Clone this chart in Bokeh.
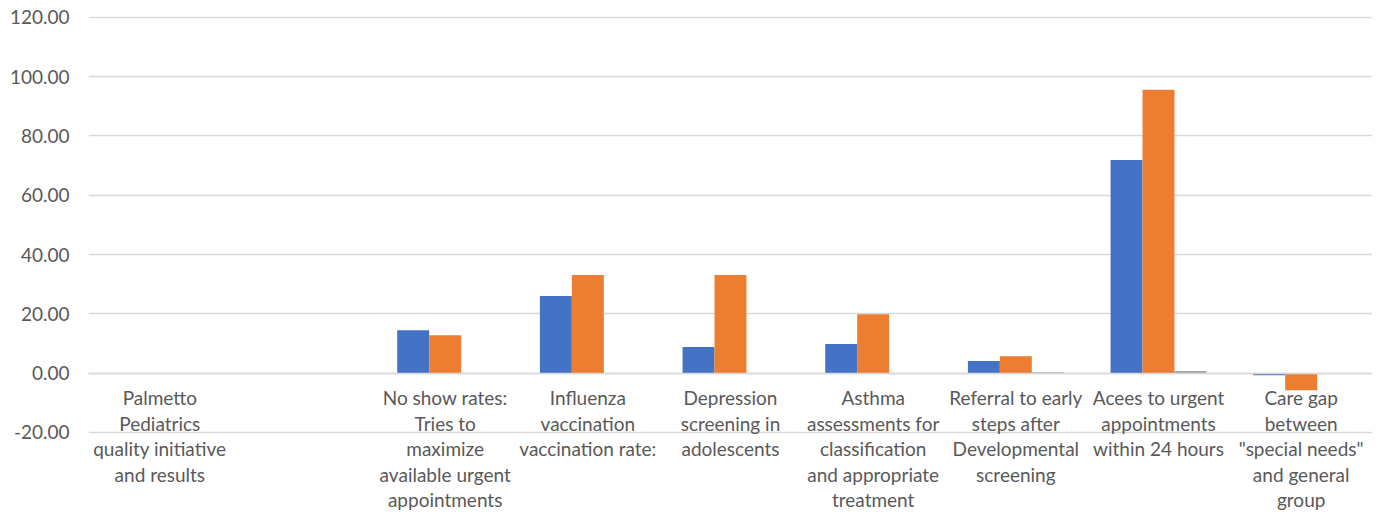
from bokeh.plotting import figure
from bokeh.models import ColumnDataSource, FactorRange, CategoricalAxis, NumeralTickFormatter, Range1d, FixedTicker
from bokeh.transform import dodge
from bokeh.embed import file_html
from bokeh.resources import INLINE

categories = [
    "Palmetto\nPediatrics\nquality initiative\nand results",
    " ",
    "No show rates:\nTries to\nmaximize\navailable urgent\nappointments",
    "Influenza\nvaccination\nvaccination rate:",
    "Depression\nscreening in\nadolescents",
    "Asthma\nassessments for\nclassification\nand appropriate\ntreatment",
    "Referral to early\nsteps after\nDevelopmental\nscreening",
    "Acees to urgent\nappointments\nwithin 24 hours",
    "Care gap\nbetween\n\"special needs\"\nand general\ngroup",
]
series_blue = [0, 0, 14.5, 26.0, 8.8, 9.8, 4.1, 71.9, -0.7]
series_orange = [0, 0, 12.8, 33.1, 33.1, 19.9, 5.7, 95.6, -5.8]
series_gray = [0, 0, 0, 0, 0, 0, 0.3, 0.7, 0]
y_ticks = [-20, 0, 20, 40, 60, 80, 100, 120]

source = ColumnDataSource(dict(cat=categories, blue=series_blue, orange=series_orange, gray=series_gray))

p = figure(
    x_range=FactorRange(factors=categories),
    y_range=Range1d(-47, 120.3),
    width=1380, height=512,
    output_backend="svg", toolbar_location=None,
    x_axis_location=None,
    min_border_left=88, min_border_right=8, min_border_top=16, min_border_bottom=0,
)
p.outline_line_color = None
p.background_fill_color = "white"
p.border_fill_color = "white"

bw = 0.224
p.vbar(x=dodge("cat", -bw, range=p.x_range), top="blue", bottom=0, width=bw, source=source,
       fill_color="#4472c4", line_color=None)
p.vbar(x=dodge("cat", 0, range=p.x_range), top="orange", bottom=0, width=bw, source=source,
       fill_color="#ed7d31", line_color=None)
p.vbar(x=dodge("cat", bw, range=p.x_range), top="gray", bottom=0, width=bw, source=source,
       fill_color="#a5a5a5", line_color=None)

p.xgrid.grid_line_color = None
p.ygrid.grid_line_color = "#d9d9d9"
p.ygrid.grid_line_width = 1.5
p.ygrid.ticker = FixedTicker(ticks=y_ticks)

yax = p.yaxis[0]
yax.ticker = FixedTicker(ticks=y_ticks)
yax.formatter = NumeralTickFormatter(format="0.00")
yax.axis_line_color = None
yax.major_tick_line_color = None
yax.minor_tick_line_color = None
yax.major_label_text_font = "Lato"
yax.major_label_text_font_size = "19px"
yax.major_label_text_color = "#595959"
yax.major_label_standoff = 13

xax = CategoricalAxis(fixed_location=0)
xax.axis_line_color = "#d9d9d9"
xax.axis_line_width = 1.5
xax.major_tick_line_color = None
xax.minor_tick_line_color = None
xax.major_label_text_font = "Lato"
xax.major_label_text_font_size = "19px"
xax.major_label_text_color = "#595959"
xax.major_label_text_line_height = 1.11
xax.major_label_standoff = 7
xax.major_label_orientation = "horizontal"
p.add_layout(xax, "below")

open("out.html", "w").write(file_html(p, INLINE))
